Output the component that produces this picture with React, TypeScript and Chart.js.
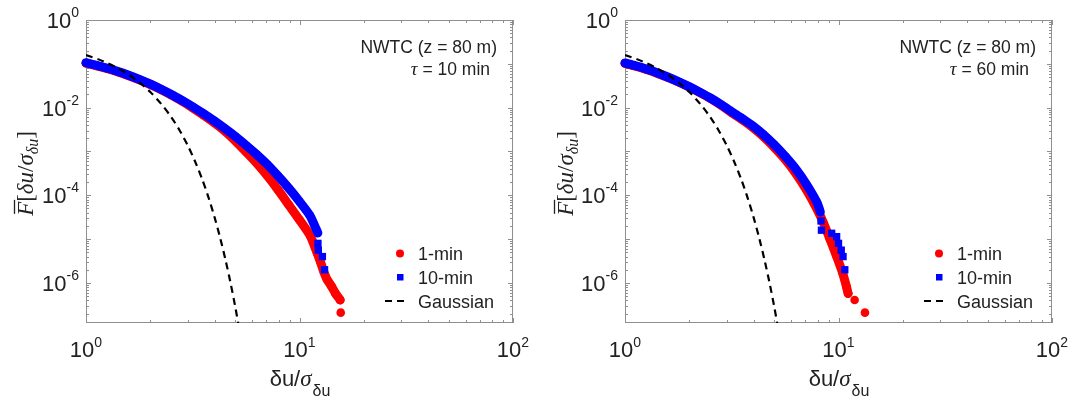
import React, { useEffect, useRef } from "react";
import { Chart, registerables } from "chart.js";

Chart.register(...registerables);

// ---------------- data ----------------
const gaussX = [1.0, 1.2, 1.4, 1.6, 1.8, 2.0, 2.25, 2.5, 2.75, 3.0, 3.25, 3.5, 3.75, 4.0, 4.25, 4.5, 4.75, 5.0, 5.2];
const gaussY = [0.159, 0.115, 0.0808, 0.0548, 0.0359, 0.0228, 0.0122, 0.00621, 0.00298, 0.00135, 5.77e-4, 2.33e-4, 8.84e-5, 3.17e-5, 1.07e-5, 3.4e-6, 1.02e-6, 2.87e-7, 9.96e-8];

// left panel (tau = 10 min)
const leftBlueX = [1.0, 1.122, 1.259, 1.413, 1.585, 1.778, 1.995, 2.239, 2.512, 2.818, 3.162, 3.548, 3.981, 4.467, 5.012, 5.623, 6.31, 7.079, 7.943, 8.913, 10.0, 11.22, 12.19];
const leftBlueY = [0.106, 0.0923, 0.0794, 0.0668, 0.055, 0.0442, 0.0347, 0.0266, 0.02, 0.0146, 0.0105, 0.00733, 0.00501, 0.00335, 0.00219, 0.00138, 0.000851, 0.000501, 0.000275, 0.000145, 0.0000724, 0.0000339, 0.0000138];
const leftBlueTailX = [12.2, 12.25, 12.8, 13.1];
const leftBlueTailY = [0.000008, 0.0000056, 0.000004, 0.000002];
const leftRedX = [1.0, 1.122, 1.259, 1.413, 1.585, 1.778, 1.995, 2.239, 2.512, 2.818, 3.162, 3.548, 3.981, 4.467, 5.012, 5.623, 6.31, 7.079, 7.943, 8.913, 10.0, 11.22, 12.1, 12.6, 13.0, 13.5, 14.1, 14.7, 15.5];
const leftRedY = [0.1035, 0.0902, 0.0776, 0.0653, 0.0537, 0.0432, 0.0339, 0.026, 0.0193, 0.014, 0.00989, 0.00676, 0.00452, 0.00292, 0.00174, 0.000977, 0.000537, 0.000275, 0.000132, 0.0000603, 0.0000275, 0.000012, 0.0000048, 0.0000028, 0.0000018, 0.00000117, 0.00000085, 0.00000059, 0.00000041];
const leftRedTailX = [14.1, 14.7, 15.5, 15.6];
const leftRedTailY = [0.00000085, 0.00000059, 0.00000041, 0.00000021];

// right panel (tau = 60 min)
const rightBlueX = [1.0, 1.122, 1.259, 1.413, 1.585, 1.778, 1.995, 2.239, 2.512, 2.818, 3.162, 3.548, 3.981, 4.467, 5.012, 5.623, 6.31, 7.079, 7.943, 8.22];
const rightBlueY = [0.1047, 0.0902, 0.0759, 0.0624, 0.0501, 0.0394, 0.0302, 0.0226, 0.0166, 0.01175, 0.00804, 0.00562, 0.0038, 0.0024, 0.00141, 0.000776, 0.000398, 0.000178, 0.0000676, 0.0000417];
const rightBlueTailX = [8.28, 8.32, 9.29, 9.8, 10.0, 10.3, 10.5, 10.7];
const rightBlueTailY = [0.000026, 0.000016, 0.0000136, 0.0000114, 0.000008, 0.0000056, 0.000004, 0.000002];
const rightRedX = [1.0, 1.122, 1.259, 1.413, 1.585, 1.778, 1.995, 2.239, 2.512, 2.818, 3.162, 3.548, 3.981, 4.467, 5.012, 5.623, 6.31, 7.079, 7.943, 8.51, 9.12, 9.77, 10.47, 10.89, 11.09];
const rightRedY = [0.1023, 0.0881, 0.0741, 0.061, 0.049, 0.0385, 0.0295, 0.0221, 0.0162, 0.01135, 0.00767, 0.00525, 0.00347, 0.00214, 0.00123, 0.000661, 0.000316, 0.000132, 0.0000479, 0.0000234, 0.00001, 0.0000042, 0.00000166, 0.00000083, 0.000000575];
const rightRedTailX = [10.89, 11.09, 11.9, 13.3];
const rightRedTailY = [0.00000083, 0.000000575, 0.00000041, 0.00000021];

// axes / ticks / text
const xRange = [1, 100];
const yRange = [1.22e-7, 1];
const xTickValues = [1, 10, 100];
const xTickExponents = ["0", "1", "2"];
const yTickValues = [1, 1e-2, 1e-4, 1e-6];
const yTickExponents = ["0", "-2", "-4", "-6"];
const legendLabels = ["1-min", "10-min", "Gaussian"];
const siteLabel = "NWTC (z = 80 m)";
const leftTau = "10 min";
const rightTau = "60 min";

const RED = "#ff0000";
const BLUE = "#0000ff";
const INK = "#222222";
const FRAME = "#8f8f8f";
const SANS = '"Liberation Sans", Arial, Helvetica, sans-serif';
const SERIF = '"Liberation Serif", "DejaVu Serif", serif';

function pts(xs: number[], ys: number[]) {
  return xs.map((x, i) => ({ x, y: ys[i] }));
}

function logTicks(lo: number, hi: number) {
  const out: number[] = [];
  for (let e = Math.floor(Math.log10(lo)); e <= Math.ceil(Math.log10(hi)); e++) {
    for (let m = 1; m <= 9; m++) {
      const v = m * Math.pow(10, e);
      if (v >= lo * 0.999 && v <= hi * 1.001) out.push(v);
    }
  }
  return out;
}

function isDecade(v: number) {
  const l = Math.log10(v);
  return Math.abs(l - Math.round(l)) < 1e-9;
}

function makeDeco(tau: string) {
  return {
    id: "deco",
    beforeDatasetsDraw(chart: any) {
      const { ctx, chartArea: a, scales } = chart;
      const xs = scales.x;
      const ys = scales.y;
      ctx.save();
      ctx.strokeStyle = FRAME;
      ctx.lineWidth = 1;
      ctx.strokeRect(a.left + 0.5, a.top + 0.5, a.right - a.left - 1, a.bottom - a.top - 1);
      ctx.beginPath();
      for (const v of logTicks(xRange[0], xRange[1])) {
        const p = Math.round(xs.getPixelForValue(v)) + 0.5;
        const L = isDecade(v) ? 5 : 3;
        ctx.moveTo(p, a.bottom);
        ctx.lineTo(p, a.bottom - L);
        ctx.moveTo(p, a.top);
        ctx.lineTo(p, a.top + L);
      }
      for (const v of logTicks(yRange[0], yRange[1])) {
        const p = Math.round(ys.getPixelForValue(v)) + 0.5;
        const L = isDecade(v) ? 5 : 3;
        ctx.moveTo(a.left, p);
        ctx.lineTo(a.left + L, p);
        ctx.moveTo(a.right, p);
        ctx.lineTo(a.right - L, p);
      }
      ctx.stroke();
      ctx.restore();
    },
    afterDraw(chart: any) {
      const { ctx, chartArea: a, scales } = chart;
      const xs = scales.x;
      const ys = scales.y;
      const mainFont = `22px ${SANS}`;
      const supFont = `14px ${SANS}`;
      ctx.save();
      ctx.fillStyle = INK;
      ctx.textBaseline = "alphabetic";
      ctx.textAlign = "left";

      // x tick labels
      xTickValues.forEach((v, i) => {
        const px = xs.getPixelForValue(v);
        ctx.font = mainFont;
        const w1 = ctx.measureText("10").width;
        ctx.font = supFont;
        const w2 = ctx.measureText(xTickExponents[i]).width;
        const x0 = px - (w1 + w2) / 2;
        ctx.font = mainFont;
        ctx.fillText("10", x0, a.bottom + 34);
        ctx.font = supFont;
        ctx.fillText(xTickExponents[i], x0 + w1, a.bottom + 24);
      });

      // y tick labels
      yTickValues.forEach((v, i) => {
        const py = ys.getPixelForValue(v);
        ctx.font = supFont;
        const w2 = ctx.measureText(yTickExponents[i]).width;
        ctx.font = mainFont;
        const w1 = ctx.measureText("10").width;
        const xr = a.left - 7;
        ctx.fillText("10", xr - w2 - w1, py + 8);
        ctx.font = supFont;
        ctx.fillText(yTickExponents[i], xr - w2, py - 3);
      });

      // x axis title: δu/σ_δu
      {
        const f1 = `22px ${SANS}`;
        const fs = `italic 23px ${SERIF}`;
        const f2 = `16px ${SANS}`;
        ctx.font = f1;
        const wa = ctx.measureText("δu/").width;
        ctx.font = fs;
        const wb = ctx.measureText("σ").width;
        ctx.font = f2;
        const wc = ctx.measureText("δu").width;
        const cx = (a.left + a.right) / 2;
        let x = cx - (wa + wb + wc) / 2;
        const base = a.bottom + 63;
        ctx.font = f1;
        ctx.fillText("δu/", x, base);
        x += wa;
        ctx.font = fs;
        ctx.fillText("σ", x, base);
        x += wb + 1;
        ctx.font = f2;
        ctx.fillText("δu", x, base + 10);
      }

      // y axis title: F̄[δu/σ_δu]
      {
        const it = `italic 23px ${SERIF}`;
        const rm = `23px ${SERIF}`;
        const sub = `italic 16px ${SERIF}`;
        const parts = [
          { t: "F", f: it, dy: 0 },
          { t: "[", f: rm, dy: 0 },
          { t: "δu", f: it, dy: 0 },
          { t: "/", f: rm, dy: 0 },
          { t: "σ", f: it, dy: 0 },
          { t: "δu", f: sub, dy: 5 },
          { t: "]", f: rm, dy: 0 },
        ];
        const widths = parts.map((p) => {
          ctx.font = p.f;
          return ctx.measureText(p.t).width;
        });
        const total = widths.reduce((s, w) => s + w, 0);
        ctx.translate(25, (a.top + a.bottom) / 2 + 2);
        ctx.rotate(-Math.PI / 2);
        let x = -total / 2;
        const base = 8;
        parts.forEach((p, i) => {
          ctx.font = p.f;
          ctx.fillText(p.t, x, base + p.dy);
          if (i === 0) {
            ctx.strokeStyle = INK;
            ctx.lineWidth = 1.3;
            ctx.beginPath();
            ctx.moveTo(x + 2, base - 18.5);
            ctx.lineTo(x + widths[0] + 2, base - 18.5);
            ctx.stroke();
          }
          x += widths[i];
        });
        ctx.setTransform(1, 0, 0, 1, 0, 0);
      }

      // annotation
      {
        ctx.textAlign = "right";
        ctx.font = `17.5px ${SANS}`;
        ctx.fillText(siteLabel, a.right - 16, a.top + 33);
        const rest = " = " + tau;
        const wr = ctx.measureText(rest).width;
        ctx.fillText(rest, a.right - 23, a.top + 55);
        ctx.font = `italic 19px ${SERIF}`;
        ctx.fillText("τ", a.right - 23 - wr, a.top + 55);
        ctx.textAlign = "left";
      }

      // legend
      {
        const mx = a.right - 113;
        const tx = a.right - 95;
        const rows = [a.bottom - 69.5, a.bottom - 46, a.bottom - 22];
        ctx.font = `18px ${SANS}`;
        ctx.fillStyle = RED;
        ctx.beginPath();
        ctx.arc(mx, rows[0], 4, 0, Math.PI * 2);
        ctx.fill();
        ctx.fillStyle = BLUE;
        ctx.fillRect(mx - 3, rows[1] - 3, 6.5, 6.5);
        ctx.strokeStyle = "#000";
        ctx.lineWidth = 2.2;
        ctx.setLineDash([7, 5]);
        ctx.beginPath();
        ctx.moveTo(mx - 15, rows[2]);
        ctx.lineTo(mx + 7, rows[2]);
        ctx.stroke();
        ctx.setLineDash([]);
        ctx.fillStyle = INK;
        legendLabels.forEach((t, i) => ctx.fillText(t, tx, rows[i] + 6.5));
      }
      ctx.restore();
    },
  };
}

type PanelProps = {
  left: number;
  width: number;
  padLeft: number;
  padRight: number;
  blueX: number[];
  blueY: number[];
  blueTailX: number[];
  blueTailY: number[];
  redX: number[];
  redY: number[];
  redTailX: number[];
  redTailY: number[];
  tau: string;
};

function Panel(props: PanelProps) {
  const ref = useRef<HTMLCanvasElement | null>(null);
  useEffect(() => {
    const canvas = ref.current!;
    const band = (color: string, style: string, r: number) => ({
      showLine: true,
      borderColor: color,
      backgroundColor: color,
      borderWidth: 9,
      tension: 0.2,
      borderJoinStyle: "round" as const,
      borderCapStyle: "round" as const,
      pointStyle: style,
      pointRadius: r,
      pointBorderWidth: 0,
      clip: 12,
    });
    const tail = (color: string, style: string, r: number) => ({
      showLine: false,
      borderColor: color,
      backgroundColor: color,
      pointStyle: style,
      pointRadius: r,
      pointBorderWidth: 0,
      clip: 12,
    });
    const chart = new Chart(canvas, {
      type: "scatter",
      data: {
        datasets: [
          {
            label: "Gaussian",
            data: pts(gaussX, gaussY),
            showLine: true,
            borderColor: "#000000",
            borderWidth: 2.2,
            borderDash: [7, 5],
            tension: 0.3,
            pointRadius: 0,
          } as any,
          { label: "10-min", data: pts(props.blueTailX, props.blueTailY), ...tail(BLUE, "rect", 5.2) },
          { label: "10-min", data: pts(props.blueX, props.blueY), ...band(BLUE, "rect", 4.5) },
          { label: "1-min", data: pts(props.redTailX, props.redTailY), ...tail(RED, "circle", 4.3) },
          { label: "1-min", data: pts(props.redX, props.redY), ...band(RED, "circle", 4.3) },
        ],
      },
      options: {
        responsive: false,
        maintainAspectRatio: false,
        animation: false,
        events: [],
        layout: { padding: { left: props.padLeft, right: props.padRight, top: 20, bottom: 80 } },
        scales: {
          x: { type: "logarithmic", min: xRange[0], max: xRange[1], display: false },
          y: { type: "logarithmic", min: yRange[0], max: yRange[1], display: false },
        },
        plugins: { legend: { display: false }, tooltip: { enabled: false } },
      },
      plugins: [makeDeco(props.tau)],
    } as any);
    return () => chart.destroy();
  }, []);
  return (
    <canvas
      ref={ref}
      width={props.width}
      height={403}
      style={{ position: "absolute", left: props.left, top: 0, width: props.width, height: 403 }}
    />
  );
}

export default function App() {
  return (
    <div style={{ position: "fixed", left: 0, top: 0, width: 1071, height: 403, background: "#fff" }}>
      <Panel
        left={0}
        width={540}
        padLeft={86}
        padRight={27}
        blueX={leftBlueX}
        blueY={leftBlueY}
        blueTailX={leftBlueTailX}
        blueTailY={leftBlueTailY}
        redX={leftRedX}
        redY={leftRedY}
        redTailX={leftRedTailX}
        redTailY={leftRedTailY}
        tau={leftTau}
      />
      <Panel
        left={540}
        width={531}
        padLeft={85}
        padRight={19}
        blueX={rightBlueX}
        blueY={rightBlueY}
        blueTailX={rightBlueTailX}
        blueTailY={rightBlueTailY}
        redX={rightRedX}
        redY={rightRedY}
        redTailX={rightRedTailX}
        redTailY={rightRedTailY}
        tau={rightTau}
      />
    </div>
  );
}
